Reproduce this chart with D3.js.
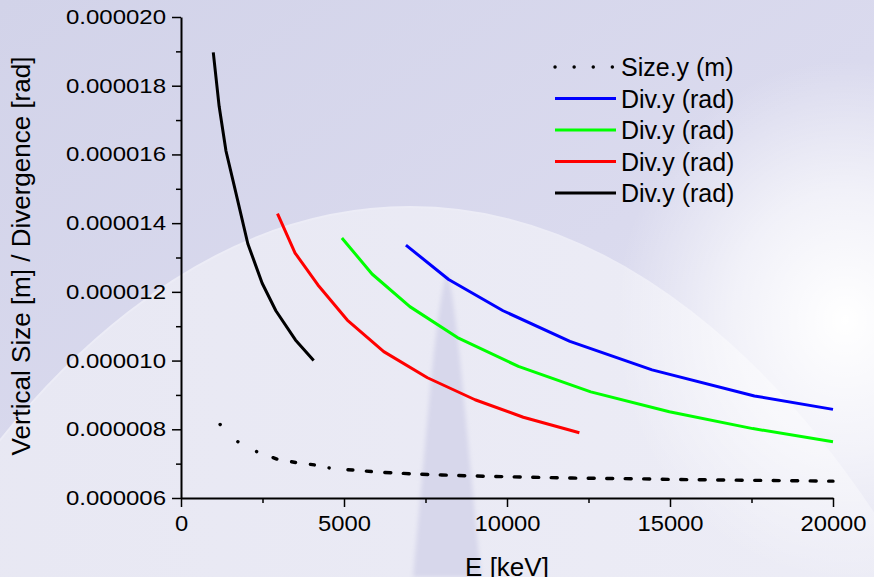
<!DOCTYPE html>
<html>
<head>
<meta charset="utf-8">
<script src="https://cdn.jsdelivr.net/npm/d3@7"></script>
<style>
  html, body { margin: 0; padding: 0; background: #ffffff; }
  svg { display: block; }
  text { font-family: "Liberation Sans", Arial, sans-serif; fill: #000; }
</style>
</head>
<body>
<svg id="chart" width="874" height="577"></svg>
<script>
// ---------- data (energies in keV, values in units of 1e-6) ----------
const sizeE   = [1200, 1740, 2320, 2950, 3540, 4110, 4720, 5370, 5950, 6520, 7150, 8000, 9000, 10000, 11000, 12000, 13000, 14000, 15000, 16000, 17000, 18000, 19000, 20000];
const sizeY   = [8.14, 7.64, 7.35, 7.13, 7.03, 6.96, 6.84, 6.81, 6.76, 6.73, 6.70, 6.67, 6.64, 6.62, 6.60, 6.58, 6.57, 6.56, 6.54, 6.53, 6.52, 6.51, 6.50, 6.49];

const blueE   = [6900, 8210, 9880, 11930, 14450, 17590, 20000];
const blueY   = [13.36, 12.36, 11.45, 10.56, 9.73, 8.97, 8.58];

const greenE  = [4935, 5860, 7020, 8480, 10350, 12570, 14980, 17540, 20000];
const greenY  = [13.57, 12.52, 11.57, 10.67, 9.83, 9.09, 8.51, 8.02, 7.64];

const redE    = [2960, 3500, 4200, 5100, 6220, 7560, 9020, 10500, 12220];
const redY    = [14.28, 13.13, 12.20, 11.18, 10.26, 9.50, 8.86, 8.35, 7.90];

const blackE  = [990, 1170, 1380, 1630, 2050, 2490, 2910, 3510, 4070];
const blackY  = [18.97, 17.40, 16.10, 15.10, 13.40, 12.25, 11.45, 10.60, 10.00];

const legendLabels = ["Size.y (m)", "Div.y (rad)", "Div.y (rad)", "Div.y (rad)", "Div.y (rad)"];
const xMajorTicks = [0, 5000, 10000, 15000, 20000];
const xMinorTicks = [2500, 7500, 12500, 17500];
const yMajorTicks = [6e-6, 8e-6, 10e-6, 12e-6, 14e-6, 16e-6, 18e-6, 20e-6];
const yMinorTicks = [7e-6, 9e-6, 11e-6, 13e-6, 15e-6, 17e-6, 19e-6];
const xTitle = "E [keV]";
const yTitle = "Vertical Size [m] / Divergence [rad]";

// ---------- layout ----------
const W = 874, H = 577;
const svg = d3.select("#chart");
const defs = svg.append("defs");

// background decoration
const bg = defs.append("linearGradient").attr("id", "bgGrad")
  .attr("x1", 0).attr("y1", 0).attr("x2", 1).attr("y2", 1);
bg.append("stop").attr("offset", 0).attr("stop-color", "#d2d3e9");
bg.append("stop").attr("offset", 0.55).attr("stop-color", "#dadaee");
bg.append("stop").attr("offset", 1).attr("stop-color", "#e4e4f2");

const dome = defs.append("linearGradient").attr("id", "domeGrad")
  .attr("x1", 0).attr("y1", 0).attr("x2", 1).attr("y2", 0);
dome.append("stop").attr("offset", 0).attr("stop-color", "#e6e6f2");
dome.append("stop").attr("offset", 1).attr("stop-color", "#eeeef7");

const glow = defs.append("radialGradient").attr("id", "glow")
  .attr("cx", 0.5).attr("cy", 0.5).attr("r", 0.5);
glow.append("stop").attr("offset", 0).attr("stop-color", "#ffffff").attr("stop-opacity", 1);
glow.append("stop").attr("offset", 0.5).attr("stop-color", "#ffffff").attr("stop-opacity", 0.6);
glow.append("stop").attr("offset", 1).attr("stop-color", "#ffffff").attr("stop-opacity", 0);

const blur = defs.append("filter").attr("id", "soft").attr("x", -0.5).attr("y", -0.5).attr("width", 2).attr("height", 2);
blur.append("feGaussianBlur").attr("stdDeviation", 2);

const bgG = svg.append("g");
bgG.append("rect").attr("width", W).attr("height", H).attr("fill", "url(#bgGrad)");
bgG.append("ellipse").attr("cx", 410).attr("cy", 207 + 1500).attr("rx", 765).attr("ry", 1500)
  .attr("fill", "url(#domeGrad)").attr("stroke", "#ececf6").attr("stroke-width", 2);
bgG.append("ellipse").attr("cx", 845).attr("cy", 320).attr("rx", 230).attr("ry", 260)
  .attr("fill", "url(#glow)");
bgG.append("path")
  .attr("d", "M447,272 C452,285 457,330 462,380 L481,577 L413,577 L431,380 C436,330 442,285 447,272 Z")
  .attr("fill", "#d7d7eb").attr("filter", "url(#soft)");

// scales
const x = d3.scaleLinear().domain([0, 20000]).range([181, 833]);
const y = d3.scaleLinear().domain([6e-6, 20e-6]).range([498, 17]);

// axes
const axisG = svg.append("g");
const xAxis = axisG.append("g").attr("transform", `translate(0,${y(6e-6)})`)
  .call(d3.axisBottom(x).tickValues(xMajorTicks).tickSize(9).tickSizeOuter(0).tickPadding(8).tickFormat(d3.format("d")));
const xMinor = axisG.append("g").attr("transform", `translate(0,${y(6e-6)})`)
  .call(d3.axisBottom(x).tickValues(xMinorTicks).tickSize(5).tickSizeOuter(0).tickFormat(""));
const yAxis = axisG.append("g").attr("transform", `translate(${x(0)},0)`)
  .call(d3.axisLeft(y).tickValues(yMajorTicks).tickSize(9).tickSizeOuter(0).tickPadding(6).tickFormat(d3.format(".6f")));
const yMinor = axisG.append("g").attr("transform", `translate(${x(0)},0)`)
  .call(d3.axisLeft(y).tickValues(yMinorTicks).tickSize(5).tickSizeOuter(0).tickFormat(""));

axisG.selectAll(".domain").attr("stroke", "#000").attr("stroke-width", 2);
axisG.selectAll(".tick line").attr("stroke", "#000").attr("stroke-width", 1.5);
xMinor.select(".domain").remove();
yMinor.select(".domain").remove();
xAxis.selectAll(".tick text").attr("font-size", 22).attr("font-family", "Liberation Sans, Arial, sans-serif").attr("fill", "#000")
  .each(function () { const w = this.getComputedTextLength(); d3.select(this).attr("textLength", w * 1.08).attr("lengthAdjust", "spacingAndGlyphs"); });
yAxis.selectAll(".tick text").attr("font-size", 20.5).attr("font-family", "Liberation Sans, Arial, sans-serif").attr("fill", "#000")
  .each(function () { const w = this.getComputedTextLength(); d3.select(this).attr("textLength", w * 1.17).attr("lengthAdjust", "spacingAndGlyphs"); });

// axis titles
svg.append("text").attr("x", 507).attr("y", 576).attr("text-anchor", "middle")
  .attr("font-size", 26).text(xTitle);
svg.append("text").attr("transform", "translate(30,256) rotate(-90)").attr("text-anchor", "middle")
  .attr("font-size", 26).text(yTitle);

// series
const line = d3.line().x(d => x(d[0])).y(d => y(d[1] * 1e-6));
const zip = (a, b) => a.map((v, i) => [v, b[i]]);

const plot = svg.append("g");
// size (dotted, turning dashed along the flat part)
const sizePath = plot.append("path").datum(zip(sizeE, sizeY))
  .attr("d", line).attr("fill", "none").attr("stroke", "#000")
  .attr("stroke-width", 3.4).attr("stroke-linecap", "round");
(function () {
  const L = sizePath.node().getTotalLength();
  const start = [0.1, 24.6, 0.1, 21.1, 0.1, 17.5, 4, 15, 4, 15, 4, 15, 0.1, 18.9, 5, 13.5, 5, 13.5, 6, 12.5, 6, 12.5];
  let arr = start.slice(), tot = d3.sum(arr);
  while (tot < L + 40) { arr.push(6, 12.5); tot += 18.5; }
  sizePath.attr("stroke-dasharray", arr.join(","));
})();

const series = [
  { e: blueE, v: blueY, c: "#0000ff" },
  { e: greenE, v: greenY, c: "#00ff00" },
  { e: redE, v: redY, c: "#ff0000" },
  { e: blackE, v: blackY, c: "#000000" }
];
series.forEach(s => {
  plot.append("path").datum(zip(s.e, s.v)).attr("d", line)
    .attr("fill", "none").attr("stroke", s.c).attr("stroke-width", 3)
    .attr("stroke-linejoin", "round");
});

// legend
const leg = svg.append("g");
const rowY = [67, 98.5, 130, 161.5, 193];
const legColors = ["#000000", "#0000ff", "#00ff00", "#ff0000", "#000000"];
legendLabels.forEach((lab, i) => {
  const ln = leg.append("line").attr("x1", 555).attr("x2", 616).attr("y1", rowY[i]).attr("y2", rowY[i])
    .attr("stroke", legColors[i]).attr("stroke-width", 3);
  if (i === 0) ln.attr("stroke-linecap", "round").attr("stroke-width", 3.4).attr("stroke-dasharray", "0.1,19").attr("x1", 555).attr("x2", 613);
  leg.append("text").attr("x", 621).attr("y", rowY[i] + 9).attr("font-size", 25).text(lab);
});
</script>
</body>
</html>
